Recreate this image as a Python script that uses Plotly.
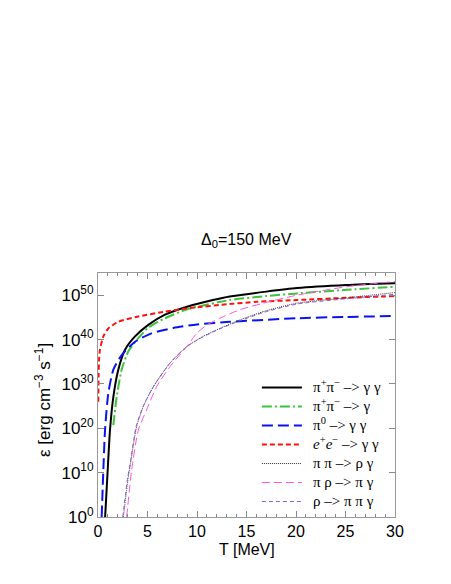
import plotly.graph_objects as go

# Values (log10 of emissivity) vs T [MeV]
T_pipi_gg = [0.72, 0.98, 1.21, 1.55, 2.05, 2.73, 3.74, 5.08, 6.77, 9.0, 11.6, 13.3, 17.0, 20.1, 25.1, 30.0]
L_pipi_gg = [0.0, 10.6, 19.6, 27.1, 33.2, 37.7, 40.7, 43.3, 45.6, 47.4, 48.9, 49.7, 50.8, 51.6, 52.3, 52.7]

T_pipi_g = [1.55, 1.89, 2.39, 3.06, 4.07, 5.08, 6.77, 9.0, 13.3, 17.0, 20.1, 25.1, 30.0]
L_pipi_g = [20.7, 27.1, 33.2, 37.3, 40.3, 42.7, 44.8, 46.8, 48.9, 49.8, 50.4, 51.2, 51.9]

T_pi0_gg = [0.37, 0.54, 0.71, 1.04, 1.55, 2.39, 3.74, 5.4, 7.6, 10.0, 13.3, 20.1, 25.0, 30.0]
L_pi0_gg = [0.0, 10.6, 19.6, 27.9, 33.2, 36.5, 39.5, 41.4, 42.6, 43.4, 44.0, 44.8, 45.1, 45.3]

T_ee_gg = [0.03, 0.06, 0.12, 0.2, 0.54, 1.04, 2.05, 4.07, 6.77, 9.3, 13.3, 16.0, 20.1, 25.0, 30.0]
L_ee_gg = [26.0, 32.0, 36.0, 37.7, 40.7, 42.5, 44.0, 45.2, 46.3, 47.1, 48.0, 48.5, 48.9, 49.4, 49.8]

T_pipi_rhog = [2.56, 3.06, 3.23, 3.9, 4.58, 5.6, 7.27, 8.96, 10.6, 12.3, 14.3, 16.7, 20.1, 25.1, 30.0]
L_pipi_rhog = [0.0, 9.0, 11.3, 20.4, 24.9, 29.4, 34.7, 38.4, 40.7, 42.5, 44.4, 46.3, 48.2, 49.4, 50.6]

T_pirho_pig = [2.9, 3.4, 4.07, 4.9, 5.93, 7.27, 8.96, 9.97, 11.0, 12.3, 14.3, 16.7, 20.1, 25.1, 30.0]
L_pirho_pig = [0.0, 10.6, 19.6, 24.1, 29.4, 33.9, 38.4, 41.4, 43.3, 44.8, 46.7, 48.2, 50.0, 51.9, 53.1]

T_rho_pipig = [2.5, 3.0, 3.2, 3.85, 4.55, 5.6, 7.27, 8.96, 10.6, 12.3, 14.3, 16.7, 20.1, 25.1, 30.0]
L_rho_pipig = [0.0, 9.0, 11.3, 20.4, 24.9, 29.4, 34.7, 38.4, 40.6, 42.4, 44.2, 46.1, 48.0, 49.2, 50.2]

names = [
    "π<sup>+</sup>π<sup>−</sup> –> γ γ",
    "π<sup>+</sup>π<sup>−</sup> –> γ",
    "π<sup>0</sup> –> γ γ",
    "<i>e</i><sup>+</sup><i>e</i><sup>−</sup> –> γ γ",
    "π π –> ρ γ",
    "π ρ –> π γ",
    "ρ –> π π γ",
]

y_tick_exps = [0, 10, 20, 30, 40, 50]
x_tick_vals = [0, 5, 10, 15, 20, 25, 30]

series = [
    (T_pipi_gg, L_pipi_gg, dict(color="black", width=2, dash="solid")),
    (T_pipi_g, L_pipi_g, dict(color="#3cc23c", width=2, dash="10px,3px,2px,3px")),
    (T_pi0_gg, L_pi0_gg, dict(color="#0a14f0", width=2, dash="11px,5px")),
    (T_ee_gg, L_ee_gg, dict(color="#ff1010", width=2, dash="5px,3px")),
    (T_pipi_rhog, L_pipi_rhog, dict(color="#303030", width=1, dash="1px,1px")),
    (T_pirho_pig, L_pirho_pig, dict(color="#ff55dd", width=1, dash="8px,4px")),
    (T_rho_pipig, L_rho_pipig, dict(color="#8a5fd0", width=1, dash="4px,3px")),
]

fig = go.Figure()
for (tx, ly, ln), nm in zip(series, names):
    fig.add_trace(go.Scatter(
        x=tx, y=[10.0 ** v for v in ly], mode="lines",
        name='&nbsp;&nbsp;<span style="font-size:15px">' + nm + "</span>",
        line=dict(shape="spline", smoothing=0.6, **ln),
    ))

font = "Liberation Sans, Arial, sans-serif"
# page body has an 8px margin; size/margins compensate so the plot area sits at x 98-395, y 273-517
fig.update_layout(
    width=443, height=576,
    margin=dict(l=90, r=56, t=265, b=67, autoexpand=False),
    paper_bgcolor="white", plot_bgcolor="white",
    showlegend=True,
    legend=dict(
        x=0.535, y=0.59, xanchor="left", yanchor="top",
        bgcolor="rgba(0,0,0,0)", borderwidth=0,
        font=dict(family="Liberation Serif, Times New Roman, serif", size=12.3, color="black"),
        tracegroupgap=0, itemwidth=40,
    ),
    xaxis=dict(
        range=[0, 30], tickvals=x_tick_vals, ticks="inside", ticklen=6,
        minor=dict(dtick=1, ticks="inside", ticklen=3, tickcolor="#888"),
        showline=True, linecolor="#999", linewidth=1, mirror="ticks",
        tickcolor="#888", showgrid=False, zeroline=False, automargin=False,
        tickfont=dict(family=font, size=16, color="black"),
    ),
    yaxis=dict(
        type="log", range=[0, 55],
        tickvals=[10.0 ** e for e in y_tick_exps],
        ticktext=["10<sup>%d</sup>" % e for e in y_tick_exps],
        ticks="inside", ticklen=6, tickcolor="#888",
        showline=True, linecolor="#999", linewidth=1, mirror="ticks",
        showgrid=False, zeroline=False, automargin=False,
        tickfont=dict(family=font, size=17, color="black"),
    ),
    annotations=[
        dict(text="Δ<sub>0</sub>=150 MeV", xref="paper", yref="paper", x=0.5, y=1.135,
             xanchor="center", yanchor="middle", showarrow=False,
             font=dict(family=font, size=16, color="black")),
        dict(text="T [MeV]", xref="paper", yref="paper", x=0.5, y=-0.135,
             xanchor="center", yanchor="middle", showarrow=False,
             font=dict(family=font, size=16, color="black")),
        dict(text="ε [erg cm<sup>−3</sup> s<sup>−1</sup>]", xref="paper", yref="paper",
             x=-0.185, y=0.48, xanchor="center", yanchor="middle", showarrow=False,
             textangle=-90, font=dict(family=font, size=17, color="black")),
    ],
)

fig.write_html("out.html")
